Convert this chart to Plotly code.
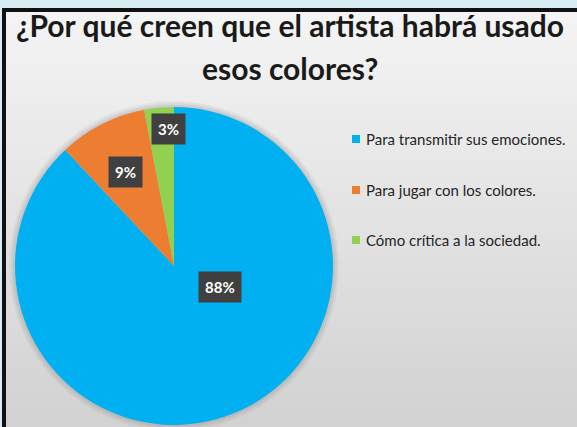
import math
import plotly.graph_objects as go

# ---- data ----
labels = ["Para transmitir sus emociones.", "Para jugar con los colores.", "Cómo crítica a la sociedad."]
values = [88, 9, 3]
pct_text = ["88%", "9%", "3%"]
colors = ["#00B0F0", "#ED7D31", "#92D050"]
title_lines = ["¿Por qué creen que el artista habrá usado", "esos colores?"]

W, H = 577, 427
# pie geometry (pixels)
cx, cy, R = 174, 266, 159

def px(x):
    return x / W

def py(y):
    return 1 - y / H

fig = go.Figure()
fig.add_trace(go.Pie(
    labels=labels, values=values, marker=dict(colors=colors, line=dict(width=0)),
    sort=False, direction="clockwise", rotation=0, textinfo="none",
    hoverinfo="label+percent", showlegend=False,
    domain=dict(x=[px(cx - R), px(cx + R)], y=[py(cy + R), py(cy - R)]),
))

shapes = []
# frame background gradient
top_y, left_x = 10, 4
n = 40
c0, c1 = (244, 244, 244), (210, 210, 210)
for i in range(n):
    t = i / (n - 1)
    c = tuple(int(round(c0[k] + (c1[k] - c0[k]) * t)) for k in range(3))
    y0 = top_y + (H - top_y) * i / n
    y1 = top_y + (H - top_y) * (i + 1) / n + 1
    shapes.append(dict(type="rect", xref="paper", yref="paper", layer="below",
                       x0=px(left_x), x1=1, y0=py(y1), y1=py(y0),
                       fillcolor="rgb(%d,%d,%d)" % c, line=dict(width=0)))
# black frame
shapes.append(dict(type="rect", xref="paper", yref="paper", layer="below",
                   x0=px(4), x1=px(W + 10), y0=py(H + 10), y1=py(top_y),
                   fillcolor="rgba(0,0,0,0)", line=dict(color="#111111", width=4)))
# soft shadow around pie
for d, op in [(6, 0.08), (4, 0.10), (2, 0.12)]:
    shapes.append(dict(type="circle", xref="paper", yref="paper", layer="below",
                       x0=px(cx - R - d), x1=px(cx + R + d), y0=py(cy + R + d), y1=py(cy - R - d),
                       fillcolor="rgba(120,120,120,%g)" % op, line=dict(width=0)))

annotations = []
# title
for txt, ty in zip(title_lines, [25, 68]):
    annotations.append(dict(text=txt, x=px(290), y=py(ty), xref="paper", yref="paper",
                            showarrow=False, xanchor="center", yanchor="middle",
                            font=dict(family="Lato", size=30, color="#1a1a1a", weight="bold")))

# data labels placed from cumulative angles
label_frac = [0.36, 0.5, 0.79]   # position within slice
label_r = [0.32, 0.667, 0.86]     # fraction of radius
total = sum(values)
cum = 0
for i, v in enumerate(values):
    a = (cum + v * label_frac[i]) / total * 2 * math.pi
    cum += v
    lx = cx + label_r[i] * R * math.sin(a)
    ly = cy - label_r[i] * R * math.cos(a)
    annotations.append(dict(text=pct_text[i], x=px(lx), y=py(ly), xref="paper", yref="paper",
                            showarrow=False, xanchor="center", yanchor="middle",
                            bgcolor="#404040", borderpad=6,
                            font=dict(family="Lato", size=15, color="white", weight="bold")))

# legend (manual)
leg_y = [139, 190, 240]
for i, lab in enumerate(labels):
    shapes.append(dict(type="rect", xref="paper", yref="paper",
                       x0=px(352), x1=px(360), y0=py(leg_y[i] + 4), y1=py(leg_y[i] - 4),
                       fillcolor=colors[i], line=dict(width=0)))
    annotations.append(dict(text=lab, x=px(364), y=py(leg_y[i]), xref="paper", yref="paper",
                            showarrow=False, xanchor="left", yanchor="middle",
                            font=dict(family="Lato", size=15, color="#262626")))

fig.update_layout(
    width=W, height=H, margin=dict(l=0, r=0, t=0, b=0),
    paper_bgcolor="#D8ECF3", plot_bgcolor="rgba(0,0,0,0)",
    shapes=shapes, annotations=annotations, showlegend=False,
)
fig.write_html("out.html", config={"displayModeBar": False},
               post_script="document.body.style.margin='0';")
